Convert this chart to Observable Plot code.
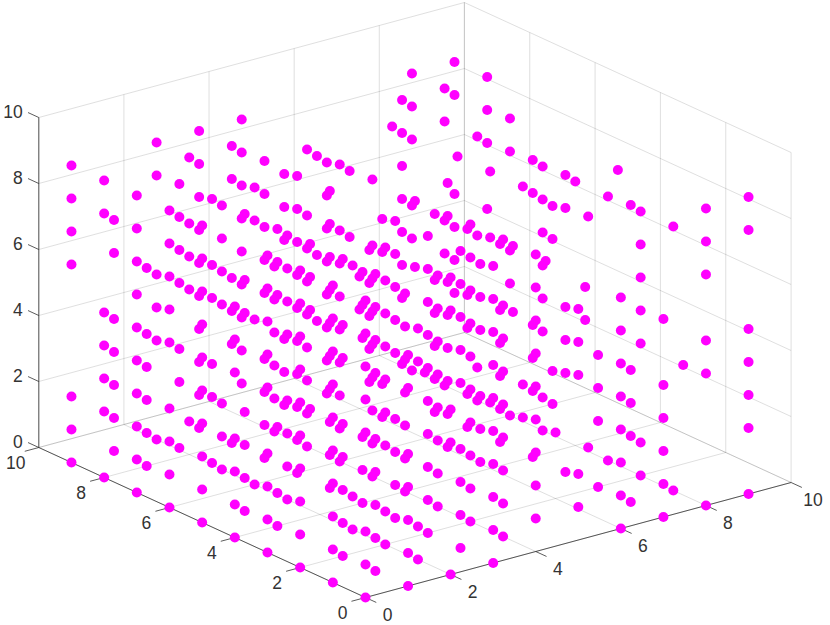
<!DOCTYPE html>
<html>
<head>
<meta charset="utf-8">
<script src="https://cdn.jsdelivr.net/npm/d3@7"></script>
<script src="https://cdn.jsdelivr.net/npm/@observablehq/plot@0.6"></script>
<style>
html,body{margin:0;padding:0;background:#fff}
svg{display:block}
</style>
</head>
<body>
<div id="chart"></div>
<script>
// Heights (z) present in each lattice column; index within a row is x = 0..9.
const rowY0 = [[0,1,2,5,6,7,8,9],[0,1,2,3,4,6,7],[0,4,5,8,9],[0,1,2,3,4,5,6,7,8,9],[1,2,3,4,5,6,7,8,9],[1,2,5,6,7],[0,1,2,3,4,5,6,7],[0,1,2,3,4,6],[0,4,5,7,8,9],[0,2,3,4,5,8,9]];
const rowY1 = [[0,1,2,3,4,5,6,7,8,9],[0,1,2,3,4,6,7,8,9],[0,1,6,7],[0,1,2,3,5,6,7,8,9],[0,1,2,3,4,5,6,7,9],[8],[2,9],[0,2,3,4,9],[0,8],[]];
const rowY2 = [[0,1,2,3,4,5,6,7,8,9],[0,1,2,3,4,6,7,9],[0,1,3,4,5,6,7,8,9],[0,1,2,3,4,5,6,7,8,9],[0,1,2,3,4,5,6,7,8,9],[6,8],[2],[0,2,3,4],[0,1,4,5,6,7,8],[3]];
const rowY3 = [[0,1,2,3,5,6,7,8,9],[4,7,8,9],[0,1,8],[0,1,2,3,5,6,7,8,9],[0,1,2,3,4,5,6,7],[1,2,3,5,6,7],[2,3,9],[0,3,4,5,8,9],[0,8],[]];
const rowY4 = [[0,1,2,3,5,6,7],[0,1,3,7,8,9],[],[0,1,2,5,6,7],[0,1,2,3,4,5,6],[1,2,3,4,5,6,8,9],[2,7,9],[0,2,3,4,8,9],[8],[8]];
const rowY5 = [[0,1,2,3,4,5,6,7,8,9],[0,1,2,3,6,7,9],[0,1,2,3,5,6,7,8],[0,1,2,3,4,5,6,7,8,9],[0,1,2,3,4,5,6,7,9],[6,8],[9],[0,1,2,3,4,6],[0,1,3,4,5,6,7,8],[3,4]];
const rowY6 = [[0,1,2,3,5,6,7,8,9],[1,3,4,6,7,9],[0,5,8,9],[0,1,2,3,4,5,6,7,8,9],[0,1,2,3,4,5,6,7,9],[1,2,6,7],[2],[0,1,3,4,6],[0,4,5,8,9],[0,1,5,6]];
const rowY7 = [[0,1,2,3,4,5,6,7,8,9],[1,3,4,6,7,8,9],[0,1,2,5,6,7,8],[0,1,2,3,5,6,7,8,9],[0,1,2,3,4,5,6,7,9],[6,8],[9],[0,1,2,3,4,6],[0,1,5,8],[]];
const rowY8 = [[0,2,3,4,5,8,9],[0,1,2,3,4,6],[1,5,6,7,9],[0,3,4,5,8,9],[0,1,2,3,4,5],[3,5,8],[3,4],[1,3,4,5,6,7,8,9],[0,4,5,8,9],[5,7,8,9]];
const rowY9 = [[0,1,2,6,7,8,9],[0,1,2,3,4,6,7],[0,3,4,5,8,9],[0,1,2,3,4,5,6,7,8,9],[1,2,3,4,5,6,7,8,9],[0,1,2,5,6,7],[0,1,2,3,4,5,6,7],[0,1,2,3,4],[0,4,5,7,8,9],[2,3,4,5,8,9]];
const rows = [rowY0,rowY1,rowY2,rowY3,rowY4,rowY5,rowY6,rowY7,rowY8,rowY9];
const ticks = [0,2,4,6,8,10];
const axisMax = 10;

// Oblique view: lattice units to plane units.
const planeU = (x, y) => 42.56 * x - 32.67 * y;
const planeV = (x, y, z) => 11.5 * x + 15 * y + 33 * z;

const points = rows.flatMap((row, y) => row.flatMap((zs, x) => zs.map(z => ({x, y, z}))));
const seg = (a, b) => ({u1: planeU(a[0], a[1]), v1: planeV(...a), u2: planeU(b[0], b[1]), v2: planeV(...b)});

const grid = ticks.flatMap(t => [
  seg([t,0,0],[t,axisMax,0]), seg([0,t,0],[axisMax,t,0]),
  seg([t,axisMax,0],[t,axisMax,axisMax]), seg([0,axisMax,t],[axisMax,axisMax,t]),
  seg([axisMax,t,0],[axisMax,t,axisMax]), seg([axisMax,0,t],[axisMax,axisMax,t])
]);
const axes = [seg([0,0,0],[axisMax,0,0]), seg([0,0,0],[0,axisMax,0]), seg([0,axisMax,0],[0,axisMax,axisMax])];
const tickLen = 0.33;
const tickSegs = ticks.flatMap(t => [
  seg([t,0,0],[t,-tickLen,0]),
  seg([0,t,0],[-tickLen,t,0]),
  seg([0,axisMax,t],[0,axisMax+tickLen,t])
]);
const lab = (p, text) => ({u: planeU(p[0], p[1]), v: planeV(...p), text: String(text)});
const xLabels = ticks.map(t => lab([t,0,0], t));
const yLabels = ticks.map(t => lab([0,t,0], t));
const zLabels = ticks.map(t => lab([0,axisMax,t], t));

const textStyle = {text: "text", x: "u", y: "v", fontSize: 17.5, fill: "#333", fontFamily: "Liberation Sans, Arial, sans-serif"};
const link = (data, stroke, opacity, width) => Plot.link(data, {x1: "u1", y1: "v1", x2: "u2", y2: "v2", stroke, strokeOpacity: opacity, strokeWidth: width});

const chart = Plot.plot({
  width: 830, height: 625,
  marginTop: 0, marginRight: 0, marginBottom: 0, marginLeft: 0,
  style: {background: "#fff", overflow: "visible"},
  x: {axis: null, type: "linear", domain: [-365, 465], range: [0, 830]},
  y: {axis: null, type: "linear", domain: [-28, 597], range: [625, 0]},
  marks: [
    link(grid, "#262626", 0.15, 1),
    link(axes, "#262626", 0.75, 1),
    link(tickSegs, "#262626", 0.75, 1),
    Plot.dot(points, {x: d => planeU(d.x, d.y), y: d => planeV(d.x, d.y, d.z), r: 5, fill: "#ff00ff", stroke: "none"}),
    Plot.text(xLabels, {...textStyle, dx: 22, dy: 17.5}),
    Plot.text(yLabels, {...textStyle, dx: -23, dy: 15.5}),
    Plot.text(zLabels, {...textStyle, dx: -16, dy: -5.5, textAnchor: "end"})
  ]
});
document.getElementById("chart").appendChild(chart);
</script>
</body>
</html>
